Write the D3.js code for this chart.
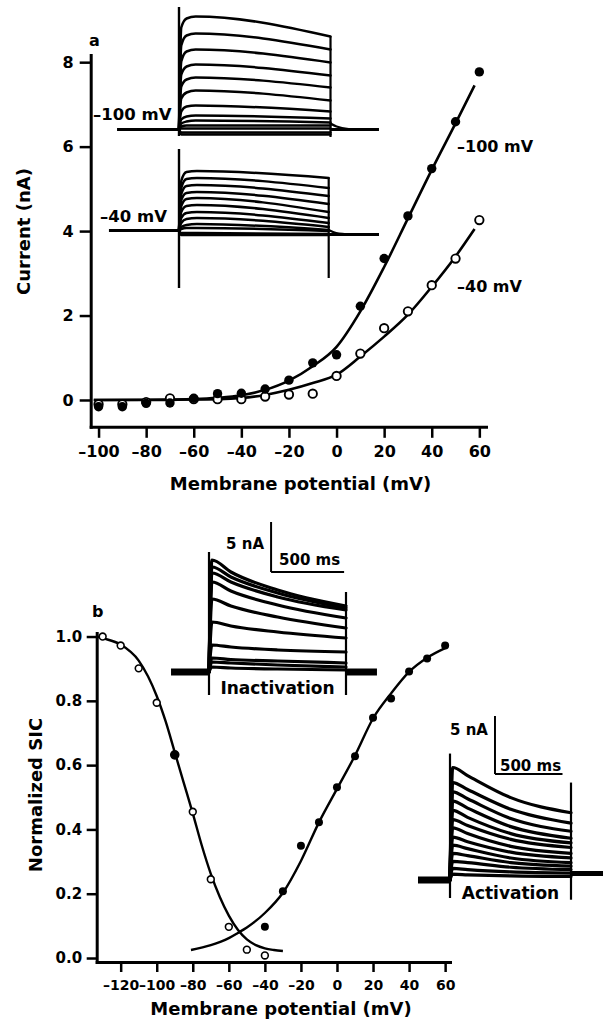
<!DOCTYPE html>
<html><head><meta charset="utf-8">
<script src="https://cdn.jsdelivr.net/npm/d3@7"></script>
<style>
body{margin:0;background:#fff}
svg{display:block}
text{font-family:"DejaVu Sans",sans-serif;font-weight:bold;fill:#000}
</style></head><body>
<script>
// ================= DATA =================
// Panel a: I-V relations (nA) at two holding potentials
const aVolt = [-100,-90,-80,-70,-60,-50,-40,-30,-20,-10,0,10,20,30,40,50,60];
const aHold100 = [-0.16,-0.16,-0.08,-0.07,0.04,0.15,0.16,0.26,0.47,0.88,1.07,2.22,3.35,4.36,5.48,6.59,7.77];
const aHold40  = [-0.10,-0.10,-0.05,0.04,0.02,0.02,0.02,0.08,0.13,0.15,0.57,1.10,1.70,2.10,2.72,3.35,4.26];
const aFit100V = [-102,-80,-60,-50,-40,-30,-20,-10,0,10,20,30,40,50,58];
const aFit100I = [0,0,0.02,0.05,0.11,0.24,0.46,0.80,1.26,2.10,3.15,4.30,5.45,6.55,7.45];
const aFit40V  = [-102,-60,-40,-30,-20,-10,0,10,20,30,40,50,58];
const aFit40I  = [0,0.01,0.05,0.12,0.24,0.40,0.60,1.03,1.50,2.02,2.68,3.40,4.05];
const aXTicks = [-100,-80,-60,-40,-20,0,20,40,60];
const aYTicks = [0,2,4,6,8];
const aSeriesLabels = ["\u2013100 mV","\u201340 mV"];

// Panel a insets: current traces sampled at these times (ms)
const aInsetT = [0,15,50,110,1000];
const aInset100 = [
  [0,10.2,11.1,11.3,9.3],[0,8.4,9.4,9.6,8.0],[0,6.8,7.8,8.0,6.7],[0,5.5,6.3,6.5,5.4],
  [0,4.3,5.0,5.2,4.2],[0,3.1,3.7,3.9,2.9],[0,1.8,2.3,2.4,1.8],[0,1.0,1.3,1.4,1.1],
  [0,0.6,0.8,0.9,0.7],[0,0.3,0.4,0.4,0.4],[0,0.1,0.1,0.1,0.1],[0,-0.3,-0.3,-0.3,-0.3],
  [0,-0.5,-0.5,-0.5,-0.5]];
const aInset40T = [0,15,50,120,1000];
const aInset40 = [
  [0,5.0,5.9,6.0,5.3],[0,4.3,5.2,5.3,4.3],[0,3.7,4.5,4.6,3.5],[0,3.1,3.8,3.9,2.7],
  [0,2.5,3.2,3.3,1.9],[0,1.9,2.5,2.6,1.3],[0,1.3,1.8,1.9,0.8],[0,0.8,1.2,1.3,0.4],
  [0,0.4,0.6,0.7,0.1],[0,0.2,0.3,0.3,0.0],[0,-0.2,-0.2,-0.2,-0.3],[0,-0.4,-0.4,-0.4,-0.4]];

// Panel b: normalized steady-state inactivation / activation
const bInactV = [-130,-120,-110,-100,-90,-80,-70,-60,-50,-40];
const bInact  = [1.0,0.972,0.901,0.794,0.632,0.455,0.245,0.097,0.026,0.008];
const bInactSolid = [0,0,0,0,1,0,0,0,0,0];
const bActV = [-40,-30,-20,-10,0,10,20,30,40,50,60];
const bAct  = [0.097,0.208,0.349,0.422,0.531,0.628,0.747,0.807,0.891,0.932,0.972];
const bInactFitV = [-133,-130,-120,-110,-100,-95,-90,-85,-80,-75,-70,-65,-60,-55,-50,-45,-40,-35,-30];
const bInactFit  = [1.0,0.995,0.975,0.925,0.815,0.735,0.64,0.545,0.45,0.35,0.262,0.19,0.132,0.088,0.058,0.04,0.03,0.025,0.022];
const bActFitV = [-81,-70,-60,-55,-50,-40,-30,-20,-10,0,10,20,30,40,50,60];
const bActFit  = [0.025,0.04,0.062,0.078,0.095,0.14,0.203,0.302,0.422,0.526,0.63,0.745,0.823,0.89,0.934,0.964];
const bXTicks = [-120,-100,-80,-60,-40,-20,0,20,40,60];
const bYTicks = [0,0.2,0.4,0.6,0.8,1.0];

// Panel b insets (nA vs ms)
const bInactT = [0,20,150,470,938];
const bInactTraces = [
  [0,11.2,10.0,8.2,6.6],[0,10.5,9.5,7.9,6.4],[0,9.9,9.0,7.5,6.2],[0,9.0,8.1,6.7,5.4],
  [0,7.3,6.6,5.5,4.4],[0,5.0,4.6,4.0,3.4],[0,2.7,2.5,2.2,2.0],[0,1.4,1.25,1.1,0.9],
  [0,1.0,0.9,0.7,0.5],[0,0.5,0.4,0.3,0.2]];
const bActT = [0,20,130,450,896];
const bActTraces = [
  [0,9.7,9.0,7.1,5.8],[0,8.4,7.8,6.1,4.9],[0,7.6,7.0,5.3,4.2],[0,6.8,6.2,4.6,3.6],
  [0,6.0,5.4,4.0,3.2],[0,5.2,4.7,3.5,2.8],[0,4.5,4.0,2.9,2.3],[0,3.7,3.3,2.4,1.9],
  [0,3.0,2.7,1.9,1.5],[0,2.3,2.1,1.5,1.2],[0,1.6,1.5,1.1,0.9],[0,1.0,0.9,0.7,0.6],
  [0,0.5,0.45,0.35,0.3]];

// ================= DRAW =================
const INK = "#000";
const svg = d3.select("body").append("svg").attr("width",610).attr("height",1027);
const fmtMinus = d => d < 0 ? "\u2013" + Math.abs(d) : String(d);

function styleAxis(g, fs){
  g.attr("font-family", null).attr("font-size", null);
  g.select(".domain").attr("stroke", INK).attr("stroke-width", 3).attr("stroke-linecap","square");
  g.selectAll(".tick line").attr("stroke", INK).attr("stroke-width", 2.5);
  g.selectAll(".tick text").attr("fill", INK)
    .style("font-size", fs + "px").style("font-weight","bold").style("font-family","DejaVu Sans");
}
function vline(g, x, y1, y2, w){
  g.append("line").attr("x1",x).attr("x2",x).attr("y1",y1).attr("y2",y2)
    .attr("stroke",INK).attr("stroke-width",w);
}
function hline(g, x1, x2, y, w){
  g.append("line").attr("x1",x1).attr("x2",x2).attr("y1",y).attr("y2",y)
    .attr("stroke",INK).attr("stroke-width",w);
}
function drawTraces(g, xs, ys, times, traces, w){
  const ln = d3.line().x(d=>xs(d[0])).y(d=>ys(d[1])).curve(d3.curveMonotoneX);
  g.selectAll(null).data(traces).join("path")
    .attr("d", tr => ln(times.map((t,i)=>[t, tr[i]])))
    .attr("fill","none").attr("stroke",INK).attr("stroke-width",w)
    .attr("stroke-linejoin","round").attr("stroke-linecap","round");
}
function pathLine(g, xs, ys, pts, w){
  g.append("path").attr("d", d3.line().x(d=>xs(d[0])).y(d=>ys(d[1])).curve(d3.curveMonotoneX)(pts))
    .attr("fill","none").attr("stroke",INK).attr("stroke-width",w).attr("stroke-linecap","round");
}

// ---------- Panel a ----------
const xA = d3.scaleLinear().domain([-103.3,62.8]).range([90.7,486]);
const yA = d3.scaleLinear().domain([-0.635,8.17]).range([426.8,55]);
const gA = svg.append("g");

// insets in panel a
const tA = d3.scaleLinear().domain([0,1000]).range([179,330.5]);
const yI100 = d3.scaleLinear().domain([0,10]).range([129.5,29.5]);
const tA2 = d3.scaleLinear().domain([0,1000]).range([179,328.7]);
const yI40 = d3.scaleLinear().domain([0,10]).range([231,131]);
const ins = gA.append("g");
// -100 mV inset
hline(ins, tA(-409), tA(0), yI100(0), 2.8);
hline(ins, tA(1000), tA(1320), yI100(0), 2.8);
pathLine(ins, tA, yI100, [[1000,0.6],[1040,0.3],[1120,0.05],[1200,0]], 2.2);
drawTraces(ins, tA, yI100, aInsetT, aInset100, 2.5);
vline(ins, tA(0), yI100(12.25), yI100(-0.65), 2.4);
vline(ins, tA(1000), yI100(9.3), yI100(-0.75), 2.2);
// -40 mV inset
hline(ins, tA2(-468), tA2(0), yI40(0.05), 2.8);
hline(ins, tA2(1000), tA2(1336), yI40(-0.35), 2.8);
pathLine(ins, tA2, yI40, [[1000,0.1],[1050,-0.2],[1150,-0.35]], 2.2);
drawTraces(ins, tA2, yI40, aInset40T, aInset40, 2.5);
vline(ins, tA2(0), yI40(8.2), yI40(-5.7), 2.4);
vline(ins, tA2(1000), yI40(5.3), yI40(-4.7), 2.2);
ins.append("text").attr("x",93).attr("y",120).style("font-size","16.5px").text(aSeriesLabels[0]);
ins.append("text").attr("x",100).attr("y",222).style("font-size","16.5px").text(aSeriesLabels[1]);

// axes a
const axAx = gA.append("g").attr("transform","translate(0,426.8)")
  .call(d3.axisBottom(xA).tickValues(aXTicks).tickSize(11).tickSizeOuter(0).tickPadding(8).tickFormat(fmtMinus));
styleAxis(axAx, 16);
const axAy = gA.append("g").attr("transform","translate(90.7,0)")
  .call(d3.axisLeft(yA).tickValues(aYTicks).tickSize(11).tickSizeOuter(0).tickPadding(6).tickFormat(d3.format("d")));
styleAxis(axAy, 16);
gA.append("text").attr("x",300.5).attr("y",490).attr("text-anchor","middle")
  .style("font-size","18px").text("Membrane potential (mV)");
gA.append("text").attr("transform","translate(30,231.5) rotate(-90)").attr("text-anchor","middle")
  .style("font-size","18px").text("Current (nA)");
gA.append("text").attr("x",89).attr("y",46).style("font-size","16px").text("a");

// fits a
const lnA = d3.line().x(d=>xA(d[0])).y(d=>yA(d[1])).curve(d3.curveMonotoneX);
gA.append("path").attr("d", lnA(aFit100V.map((v,i)=>[v,aFit100I[i]])))
  .attr("fill","none").attr("stroke",INK).attr("stroke-width",2.6);
gA.append("path").attr("d", lnA(aFit40V.map((v,i)=>[v,aFit40I[i]])))
  .attr("fill","none").attr("stroke",INK).attr("stroke-width",2.6);
// points a
gA.selectAll(null).data(aVolt.map((v,i)=>[v,aHold40[i]])).join("circle")
  .attr("cx",d=>xA(d[0])).attr("cy",d=>yA(d[1])).attr("r",4.2)
  .attr("fill","#fff").attr("stroke",INK).attr("stroke-width",1.9);
gA.selectAll(null).data(aVolt.map((v,i)=>[v,aHold100[i]])).join("circle")
  .attr("cx",d=>xA(d[0])).attr("cy",d=>yA(d[1])).attr("r",4.7).attr("fill",INK);
gA.append("text").attr("x",457).attr("y",152).style("font-size","16px").text(aSeriesLabels[0]);
gA.append("text").attr("x",457).attr("y",292).style("font-size","16px").text(aSeriesLabels[1]);

// ---------- Panel b ----------
const xB = d3.scaleLinear().domain([-133.3,62.7]).range([96.7,450]);
const yB = d3.scaleLinear().domain([-0.0124,1.011]).range([962,633]);
const gB = svg.append("g");

// inactivation inset
const tIn = d3.scaleLinear().domain([0,938]).range([209,346]);
const yIn = d3.scaleLinear().domain([0,10]).range([672,572]);
const gi = gB.append("g");
hline(gi, tIn(-260), tIn(0), yIn(0), 7);
hline(gi, tIn(938), tIn(1150), yIn(0), 7);
drawTraces(gi, tIn, yIn, bInactT, bInactTraces, 3.2);
vline(gi, tIn(0), yIn(12), yIn(-2.3), 2.2);
vline(gi, tIn(938), yIn(8), yIn(-2.3), 2.2);
vline(gi, tIn(425), yIn(15), yIn(10), 2);
hline(gi, tIn(425), tIn(925), yIn(10), 2);
gi.append("text").attr("x",tIn(425)-7).attr("y",yIn(15)+27).attr("text-anchor","end").style("font-size","15px").text("5 nA");
gi.append("text").attr("x",tIn(425)+8).attr("y",yIn(10)-7).style("font-size","15px").text("500 ms");
gi.append("text").attr("x",(tIn(0)+tIn(938))/2).attr("y",694).attr("text-anchor","middle").style("font-size","17px").text("Inactivation");

// activation inset
const tAc = d3.scaleLinear().domain([0,896]).range([450,571]);
const yAc = d3.scaleLinear().domain([0,10]).range([880,764]);
const ga = gB.append("g");
hline(ga, tAc(-237), tAc(0), yAc(0), 7);
hline(ga, tAc(896), tAc(1133), yAc(0.55), 5);
drawTraces(ga, tAc, yAc, bActT, bActTraces, 3.2);
vline(ga, tAc(0), yAc(10.9), yAc(-1.55), 2.2);
vline(ga, tAc(896), yAc(8.4), yAc(-1.7), 2.2);
vline(ga, tAc(333), yAc(14.14), yAc(9.14), 2);
hline(ga, tAc(333), tAc(833), yAc(9.14), 2);
ga.append("text").attr("x",tAc(333)-7).attr("y",yAc(14.14)+19).attr("text-anchor","end").style("font-size","15px").text("5 nA");
ga.append("text").attr("x",tAc(333)+5).attr("y",yAc(9.14)-3).style("font-size","15px").text("500 ms");
ga.append("text").attr("x",(tAc(0)+tAc(896))/2).attr("y",899).attr("text-anchor","middle").style("font-size","17px").text("Activation");

// axes b
const axBx = gB.append("g").attr("transform","translate(0,962)")
  .call(d3.axisBottom(xB).tickValues(bXTicks).tickSize(10).tickSizeOuter(0).tickPadding(8).tickFormat(fmtMinus));
styleAxis(axBx, 14);
const axBy = gB.append("g").attr("transform","translate(96.7,0)")
  .call(d3.axisLeft(yB).tickValues(bYTicks).tickSize(10).tickSizeOuter(0).tickPadding(4.5).tickFormat(d3.format(".1f")));
styleAxis(axBy, 15);
gB.append("text").attr("x",281).attr("y",1015).attr("text-anchor","middle")
  .style("font-size","18px").text("Membrane potential (mV)");
gB.append("text").attr("transform","translate(42,795) rotate(-90)").attr("text-anchor","middle")
  .style("font-size","18px").text("Normalized  SIC");
gB.append("text").attr("x",92).attr("y",617).style("font-size","16px").text("b");

// fits b
const lnB = d3.line().x(d=>xB(d[0])).y(d=>yB(d[1])).curve(d3.curveMonotoneX);
gB.append("path").attr("d", lnB(bInactFitV.map((v,i)=>[v,bInactFit[i]])))
  .attr("fill","none").attr("stroke",INK).attr("stroke-width",2.4);
gB.append("path").attr("d", lnB(bActFitV.map((v,i)=>[v,bActFit[i]])))
  .attr("fill","none").attr("stroke",INK).attr("stroke-width",2.4);
// points b
gB.selectAll(null).data(bInactV.map((v,i)=>[v,bInact[i],bInactSolid[i]])).join("circle")
  .attr("cx",d=>xB(d[0])).attr("cy",d=>yB(d[1])).attr("r",d=>d[2]?4:3.4)
  .attr("fill",d=>d[2]?INK:"#fff").attr("stroke",INK).attr("stroke-width",1.6);
gB.selectAll(null).data(bActV.map((v,i)=>[v,bAct[i]])).join("circle")
  .attr("cx",d=>xB(d[0])).attr("cy",d=>yB(d[1])).attr("r",4).attr("fill",INK);
</script>
</body></html>
